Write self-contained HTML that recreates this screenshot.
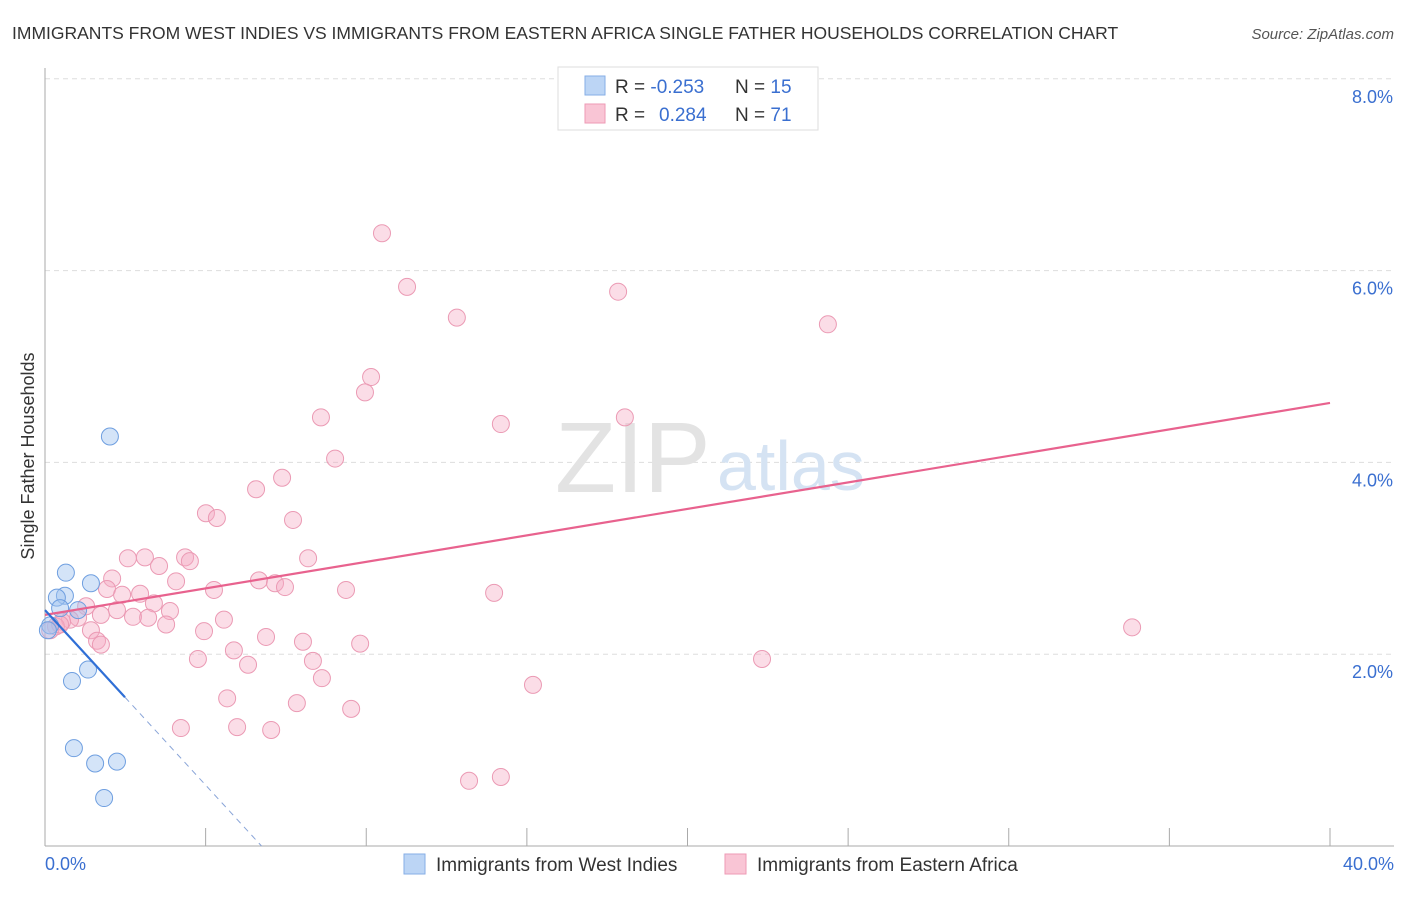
<!DOCTYPE html>
<html><head><meta charset="utf-8"><style>
body{margin:0;background:#fff;font-family:"Liberation Sans",sans-serif;}
svg text{font-family:"Liberation Sans",sans-serif;}
</style></head><body>
<svg id="c" width="1406" height="892">
<text x="12" y="39" font-size="17.5" fill="#333">IMMIGRANTS FROM WEST INDIES VS IMMIGRANTS FROM EASTERN AFRICA SINGLE FATHER HOUSEHOLDS CORRELATION CHART</text>
<text x="1394" y="39" font-size="15" fill="#555" font-style="italic" text-anchor="end">Source: ZipAtlas.com</text>
<g id="grid"></g>
<text x="555" y="492" font-size="100" fill="#e3e3e3" font-family="Liberation Serif">ZIP</text>
<text x="717" y="490" font-size="70" fill="#d5e3f3">atlas</text>
<line x1="45" y1="68" x2="45" y2="846" stroke="#aaa"/>
<line x1="45" y1="846" x2="1394" y2="846" stroke="#aaa"/>
<text transform="translate(34,456) rotate(-90)" font-size="18" fill="#333" text-anchor="middle">Single Father Households</text>
<g id="pts"></g>
<g id="lines"></g>
<g>
<rect x="558" y="67" width="260" height="63" fill="#fff" stroke="#ddd"/>
<rect x="585" y="76" width="20" height="19" fill="#bcd5f5" stroke="#86aee6"/>
<rect x="585" y="104" width="20" height="19" fill="#f9c5d5" stroke="#ee9ab5"/>
<text x="615" y="93" font-size="19" fill="#333">R = <tspan fill="#3a6fd0">-0.253</tspan><tspan x="735">N = </tspan><tspan fill="#3a6fd0">15</tspan></text>
<text x="615" y="121" font-size="19" fill="#333">R = <tspan x="659" fill="#3a6fd0">0.284</tspan><tspan x="735">N = </tspan><tspan fill="#3a6fd0">71</tspan></text>
</g>
<g>
<rect x="404" y="854" width="21" height="20" fill="#bcd5f5" stroke="#86aee6"/>
<text x="436" y="871" font-size="19" fill="#333">Immigrants from West Indies</text>
<rect x="725" y="854" width="21" height="20" fill="#f9c5d5" stroke="#ee9ab5"/>
<text x="757" y="871" font-size="19" fill="#333">Immigrants from Eastern Africa</text>
</g>
</svg>
<script>
const xTicks=[0,5,10,15,20,25,30,35,40];
const yTicks=[2,4,6,8];
const blueX=[2.02,0.65,1.43,0.62,0.37,0.47,1.03,0.16,0.09,1.34,0.84,0.90,1.56,2.24,1.84];
const blueY=[4.27,2.85,2.74,2.61,2.59,2.48,2.46,2.30,2.25,1.84,1.72,1.02,0.86,0.88,0.50];
const pinkPx=[[382,233],[407,287],[618,292],[457,318],[828,324],[371,377],[365,392],[321,417],[501,424],[625,417],[335,459],[256,489],[282,478],[206,513],[217,518],[293,520],[128,558],[145,557],[185,557],[190,561],[308,558],[159,566],[112,578],[176,581],[259,580],[275,583],[285,587],[214,590],[107,589],[122,595],[140,594],[346,590],[494,593],[154,603],[86,606],[117,610],[170,611],[133,617],[148,618],[224,620],[166,624],[78,618],[70,620],[62,622],[56,626],[50,630],[101,615],[91,630],[204,631],[97,641],[101,645],[266,637],[303,642],[360,644],[234,650],[198,659],[248,665],[313,661],[322,678],[533,685],[762,659],[1132,627],[227,698],[297,703],[351,709],[181,728],[237,727],[271,730],[469,781],[501,777],[60,624]];
const pinkX=pinkPx.map(p=>+((p[0]-45)*40/1285).toFixed(2));
const pinkY=pinkPx.map(p=>+((846-p[1])/95.9).toFixed(2));
const pinkTrend=[2.41,4.62];
const blueTrend=[2.46,-0.365];
const X=v=>45+v*1285/40, Y=v=>846-v*95.9;
const NS="http://www.w3.org/2000/svg";
function mk(t,a,p){const e=document.createElementNS(NS,t);for(const k in a)e.setAttribute(k,a[k]);p.appendChild(e);return e;}
const grid=document.getElementById('grid');
yTicks.forEach(v=>{
 const l=mk('line',{x1:45,x2:1394,y1:Y(v),y2:Y(v),stroke:'#ddd','stroke-dasharray':'5,4'},grid);
 
 
 const t=mk('text',{x:1393,y:Y(v)+24,'font-size':18,fill:'#3a6fd0','text-anchor':'end'},grid);
 t.textContent=v.toFixed(1)+'%';
 
 
});
xTicks.forEach((v,i)=>{
 const l=mk('line',{x1:X(v),x2:X(v),y1:828,y2:846,stroke:'#aaa'},grid);
 
 
});
[[0,'start',45],[40,'end',1394]].forEach(([v,a,x])=>{
 const t=mk('text',{x:x,y:870,'font-size':18,fill:'#3a6fd0','text-anchor':a},grid);
 t.textContent=v.toFixed(1)+'%';
 
 
});
const pts=document.getElementById('pts');
pinkX.forEach((x,i)=>{
 const c=mk('circle',{cx:X(x),cy:Y(pinkY[i]),r:8.5,fill:'rgba(246,170,195,0.4)',stroke:'#eb9ab4','stroke-width':1},pts);
 
 
});
blueX.forEach((x,i)=>{
 const c=mk('circle',{cx:X(x),cy:Y(blueY[i]),r:8.5,fill:'rgba(160,195,240,0.45)',stroke:'#6f9fe0','stroke-width':1},pts);
 
 
});
const ln=document.getElementById('lines');
let l=mk('line',{x1:X(0),y1:Y(pinkTrend[0]),x2:X(40),y2:Y(pinkTrend[1]),stroke:'#e8628e','stroke-width':2.2},ln);


const bx1=2.49, bx2=-blueTrend[0]/blueTrend[1];
l=mk('line',{x1:X(0),y1:Y(blueTrend[0]),x2:X(bx1),y2:Y(blueTrend[0]+blueTrend[1]*bx1),stroke:'#2f6fd6','stroke-width':2.2},ln);


l=mk('line',{x1:X(bx1),y1:Y(blueTrend[0]+blueTrend[1]*bx1),x2:X(bx2),y2:Y(0),stroke:'#8aa5d8','stroke-width':1,'stroke-dasharray':'6,5'},ln);


</script>
</body></html>
